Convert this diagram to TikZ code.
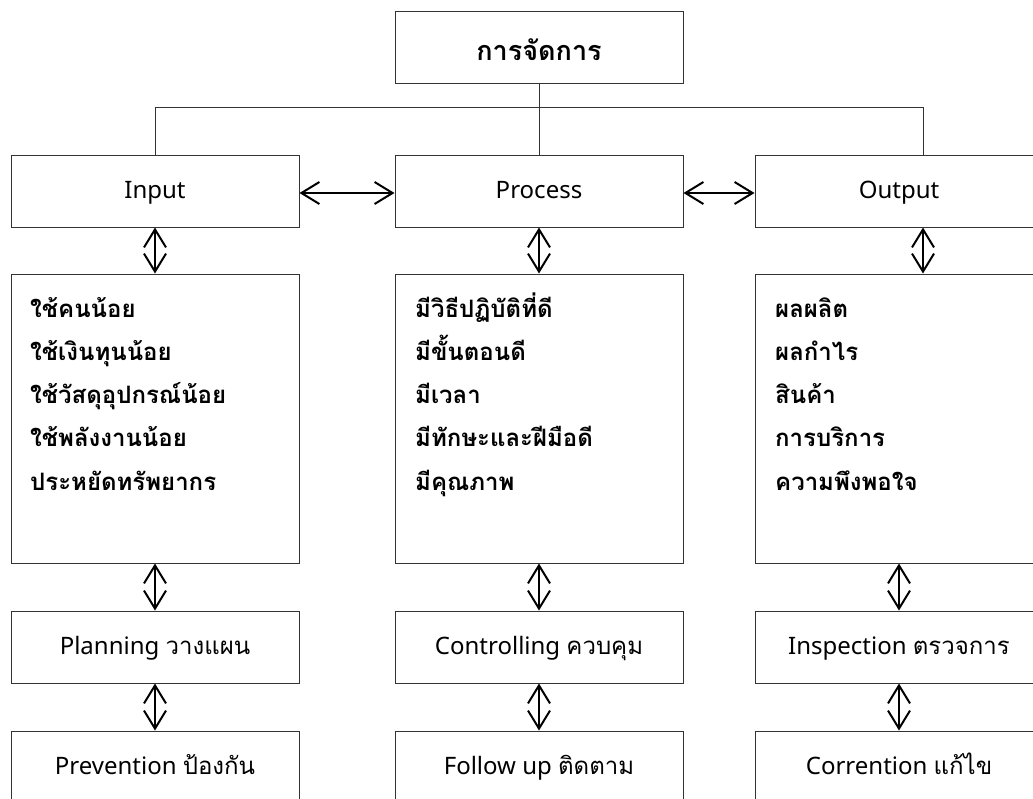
\documentclass[tikz,border=0pt]{standalone}
\usepackage{fontspec}
\setmainfont{Noto Sans}
\newfontfamily\thai[Script=Thai]{Loma}
\usetikzlibrary{arrows.meta}
\begin{document}
\begin{tikzpicture}[x=1pt,y=-1pt,
  box/.style={draw=black!80,line width=1pt,rectangle,minimum width=288pt,minimum height=72pt,inner sep=0pt,text height=19pt,text depth=5pt,font=\fontsize{24}{28}\selectfont},
  titlebox/.style={box,text height=30pt,text depth=4pt,font=\thai\bfseries\fontsize{27}{32}\selectfont},
  listbox/.style={draw=black!80,line width=1pt,rectangle,minimum width=288pt,minimum height=289pt,inner sep=0pt},
  listtext/.style={anchor=base west,inner sep=0pt,font=\thai\bfseries\fontsize{24}{28}\selectfont},
  link/.style={draw=black!80,line width=1pt},
  dbl/.style={line width=2pt,{Straight Barb[length=18pt,width=22pt,line width=2pt]}-{Straight Barb[length=18pt,width=22pt,line width=2pt]}}]
\useasboundingbox[fill=white] (0,0) rectangle (1033,798);
\clip (0,0) rectangle (1033,798);
\node[titlebox] (top) at (539,47) {การจัดการ};
\node[box] (in) at (155,191) {Input};
\node[box] (pr) at (539,191) {Process};
\node[box] (out) at (899,191) {Output};
\node[listbox] (inL) at (155,418.5) {};
\node[listbox] (prL) at (539,418.5) {};
\node[listbox] (outL) at (899,418.5) {};
\node[box] (plan) at (155,647) {Planning {\thai วางแผน}};
\node[box] (ctrl) at (539,647) {Controlling {\thai ควบคุม}};
\node[box] (insp) at (899,647) {Inspection {\thai ตรวจการ}};
\node[box] (prev) at (155,767) {Prevention {\thai ป้องกัน}};
\node[box] (foll) at (539,767) {Follow up {\thai ติดตาม}};
\node[box] (corr) at (899,767) {Corrention {\thai แก้ไข}};
\foreach \t [count=\i] in {ใช้คนน้อย,ใช้เงินทุนน้อย,ใช้วัสดุอุปกรณ์น้อย,ใช้พลังงานน้อย,ประหยัดทรัพยากร}
  \node[listtext] (inT\i) at (30,{317+43.25*(\i-1)}) {\t};
\foreach \t [count=\i] in {มีวิธีปฏิบัติที่ดี,มีขั้นตอนดี,มีเวลา,มีทักษะและฝีมือดี,มีคุณภาพ}
  \node[listtext] (prT\i) at (415,{317+43.25*(\i-1)}) {\t};
\foreach \t [count=\i] in {ผลผลิต,ผลกำไร,สินค้า,การบริการ,ความพึงพอใจ}
  \node[listtext] (outT\i) at (775,{317+43.25*(\i-1)}) {\t};
\coordinate (bus) at (539,107);
\draw[link] (top.south) -- (pr.north);
\draw[link] (in.north) -- (in.north |- bus) -- ([xshift=24pt]out.north |- bus) -- ([xshift=24pt]out.north);
\draw[dbl] ([yshift=-2pt]in.east) -- ([yshift=-2pt]pr.west);
\draw[dbl] ([yshift=-2pt]pr.east) -- ([yshift=-2pt]out.west);
\draw[dbl] (in.south) -- (inL.north);
\draw[dbl] (pr.south) -- (prL.north);
\draw[dbl] ([xshift=24pt]out.south) -- ([xshift=24pt]outL.north);
\draw[dbl] (inL.south) -- (plan.north);
\draw[dbl] (prL.south) -- (ctrl.north);
\draw[dbl] (outL.south) -- (insp.north);
\draw[dbl] (plan.south) -- (prev.north);
\draw[dbl] (ctrl.south) -- (foll.north);
\draw[dbl] (insp.south) -- (corr.north);
\end{tikzpicture}
\end{document}
